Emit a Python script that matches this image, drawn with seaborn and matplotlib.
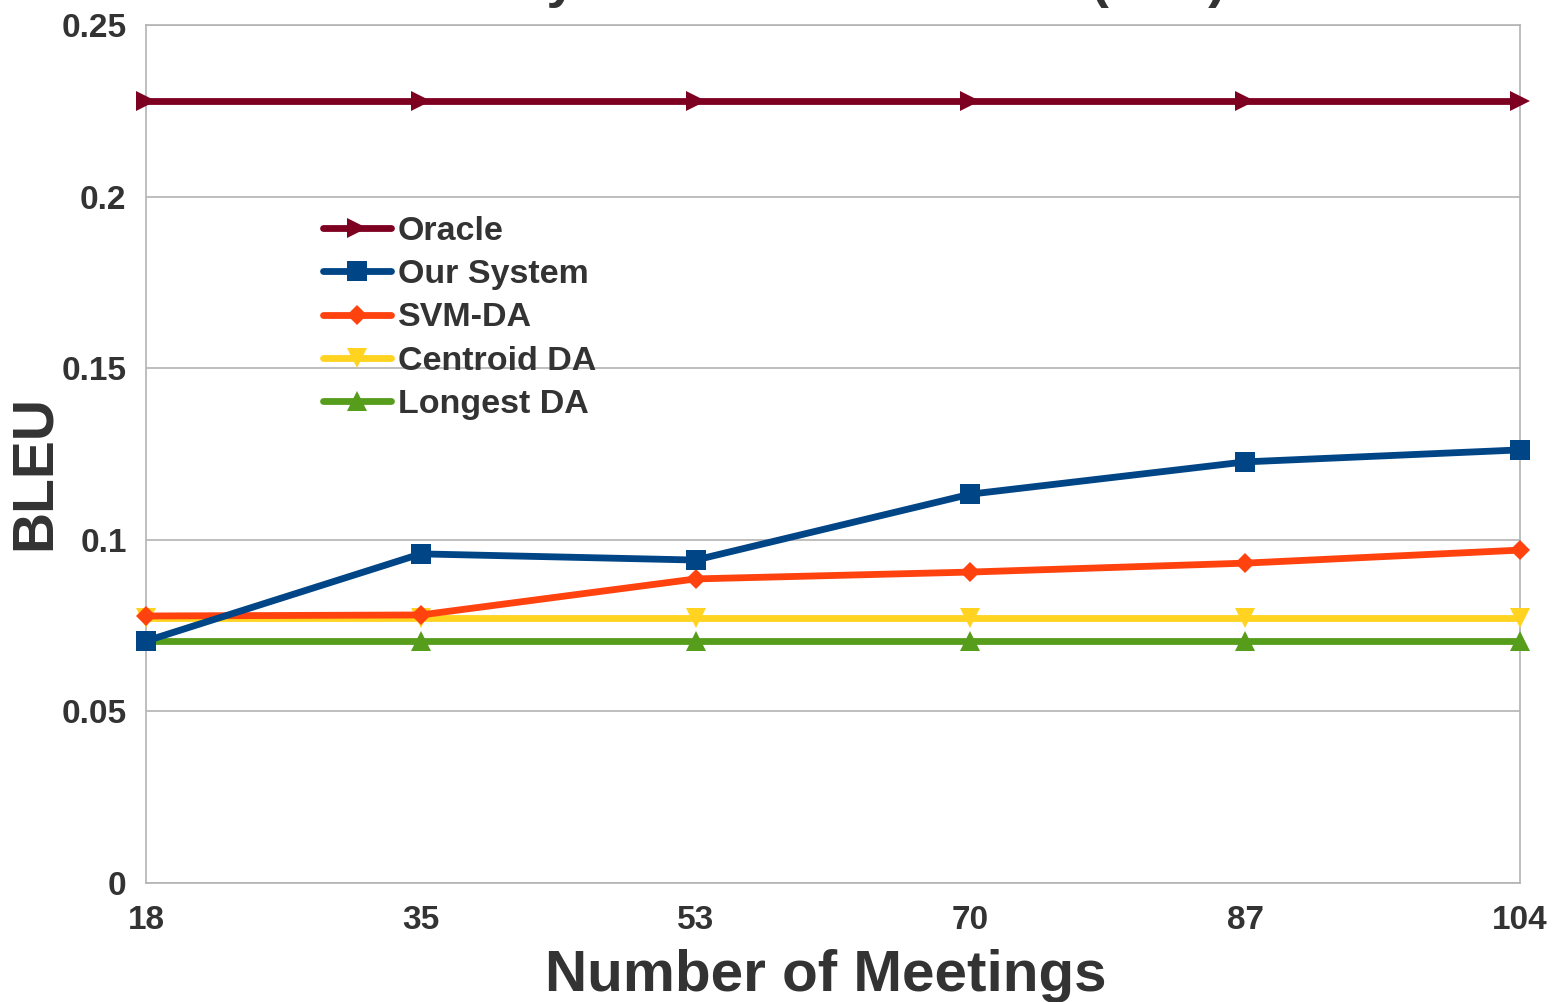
import matplotlib
matplotlib.use("Agg")
import matplotlib.pyplot as plt
import seaborn as sns
import pandas as pd

# BLEU per training-set size (number of meetings)
meetings = ["18", "35", "53", "70", "87", "104"]
oracle = [0.228, 0.228, 0.228, 0.228, 0.228, 0.228]
our_system = [0.0705, 0.0959, 0.0941, 0.1133, 0.1227, 0.1262]
svm_da = [0.0778, 0.0781, 0.0886, 0.0906, 0.0932, 0.0970]
centroid_da = [0.0772, 0.0772, 0.0772, 0.0772, 0.0772, 0.0772]
longest_da = [0.0705, 0.0705, 0.0705, 0.0705, 0.0705, 0.0705]

series_names = ["Oracle", "Our System", "SVM-DA", "Centroid DA", "Longest DA"]
series_values = [oracle, our_system, svm_da, centroid_da, longest_da]
colors = ["#7e0021", "#004586", "#ff420e", "#ffd320", "#579d1c"]
markers = [">", "s", "D", "v", "^"]
marker_sizes = [14, 15, 10, 15, 15]

rows = []
for name, vals in zip(series_names, series_values):
    for i, v in enumerate(vals):
        rows.append({"pos": i, "BLEU": v, "system": name})
df = pd.DataFrame(rows)

sns.set_theme(style="white")
plt.rcParams["font.family"] = ["Liberation Sans", "DejaVu Sans"]
plt.rcParams["font.weight"] = "bold"
text_color = "#333333"
grid_color = "#b3b3b3"

fig = plt.figure(figsize=(15.52, 10.02), dpi=100)
ax = fig.add_axes([146 / 1552, 1 - 883 / 1002, (1520 - 146) / 1552, (883 - 25) / 1002])

# draw in reverse so the top-ranked lines end up on top
for name, color, mk, ms in reversed(list(zip(series_names, colors, markers, marker_sizes))):
    sub = df[df["system"] == name]
    sns.lineplot(data=sub, x="pos", y="BLEU", ax=ax, color=color, marker=mk,
                 markersize=ms, markeredgewidth=0, linewidth=4.9, label=name,
                 clip_on=False, zorder=3)

ax.set_xlim(0, len(meetings) - 1)
ax.set_ylim(0, 0.25)
ax.set_xticks(range(len(meetings)))
ax.set_xticklabels(meetings)
ax.set_yticks([0, 0.05, 0.1, 0.15, 0.2, 0.25])
ax.set_yticklabels(["0", "0.05", "0.1", "0.15", "0.2", "0.25"])

ax.yaxis.grid(True, color=grid_color, linewidth=1.2)
ax.xaxis.grid(False)
for sp in ax.spines.values():
    sp.set_color(grid_color)
    sp.set_linewidth(1.2)

ax.tick_params(axis="both", which="major", length=9, width=1.2, color=grid_color,
               labelsize=24, labelcolor=text_color)
ax.tick_params(axis="y", pad=5)
ax.tick_params(axis="x", pad=7)
for lbl in ax.get_xticklabels() + ax.get_yticklabels():
    lbl.set_fontweight("bold")

ax.set_xlabel("Number of Meetings", fontsize=42, fontweight="bold", color=text_color)
ax.set_ylabel("BLEU", fontsize=41, fontweight="bold", color=text_color)
ax.xaxis.set_label_coords(0.495, -0.077)
ax.yaxis.set_label_coords(-0.061, 0.479)

handles, labels = ax.get_legend_handles_labels()
order = [labels.index(n) for n in series_names]
leg = ax.legend([handles[i] for i in order], [labels[i] for i in order],
                loc="upper left", bbox_to_anchor=(323 / 1552, 1 - 216 / 1002),
                bbox_transform=fig.transFigure, frameon=False, fontsize=24.5,
                handlelength=2.0, handletextpad=0.2, labelspacing=0.36,
                borderpad=0, borderaxespad=0, numpoints=1)
for t in leg.get_texts():
    t.set_color(text_color)
    t.set_fontweight("bold")

fig.text(1226 / 1552, 1.003, "Summary Evaluation Results (AMI)", ha="right",
         va="baseline", fontsize=39, fontweight="bold", color=text_color)

fig.savefig("out.png", dpi=100)
